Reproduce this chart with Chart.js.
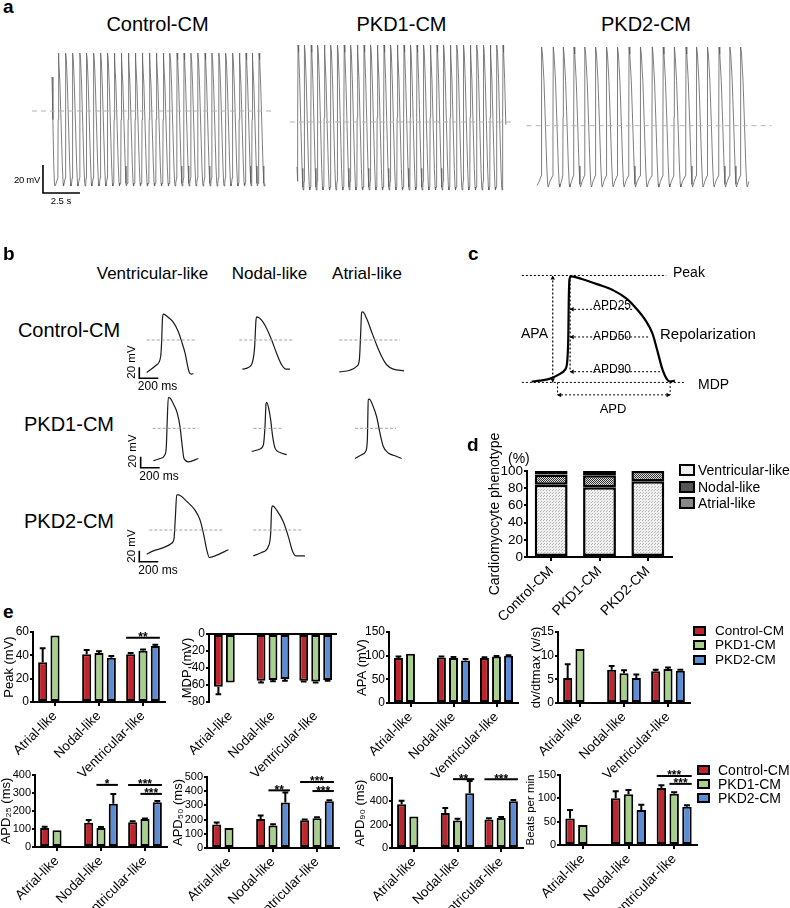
<!DOCTYPE html>
<html>
<head>
<meta charset="utf-8">
<title>PKD cardiomyocyte action potentials</title>
<script src="https://cdn.jsdelivr.net/npm/chart.js"></script>
<style>
  body { margin: 0; background: #fff; }
  #fig { position: relative; width: 790px; height: 908px; overflow: hidden;
         font-family: "Liberation Sans", Arial, sans-serif; color: #000; }
  #fig canvas { position: absolute; }
  .t { position: absolute; line-height: 1; white-space: nowrap; }
  .box { position: absolute; box-sizing: border-box; border: 2.5px solid #000; }
</style>
</head>
<body>
<div id="fig"></div>
<script>
// ---------- panel a: spontaneous AP trains (s, mV) ----------
const ctrlPeaks = [0.43, 0.93, 1.40, 1.89, 2.34, 2.82, 3.29, 3.76, 4.21, 4.68, 5.16, 5.63, 6.10, 6.58, 7.05,
                   7.52, 7.97, 8.45, 8.92, 9.39, 9.86, 10.34, 10.81, 11.28, 11.74, 12.21, 12.66, 13.11, 13.53, 13.99];
const pkd1Peaks = [0.07, 0.51, 0.96, 1.40, 1.85, 2.29, 2.74, 3.19, 3.63, 4.08, 4.53, 4.98, 5.43, 5.88, 6.33, 6.78,
                   7.23, 7.67, 8.11, 8.56, 9.01, 9.46, 9.91, 10.36, 10.81, 11.26, 11.71, 12.16, 12.61, 13.06, 13.51, 13.92];
const pkd2Peaks = [0.32, 1.10, 1.78, 2.50, 3.24, 3.97, 4.71, 5.45, 6.22, 7.00, 7.79, 8.53, 9.28, 10.07, 10.79,
                   11.53, 12.30, 13.04, 13.77];
const trainLevels = [[41.4, -53.6], [55, -48.6], [56.2, -43.8]];   // [peak, MDP]
const trainEnds = [14.39, 14.12, 14.37];
// beat shape: [s from peak, fraction of amplitude]
const beatFast = [[-0.035, 0.06], [-0.015, 0.5], [0, 1], [0.04, 0.95], [0.11, 0.76], [0.19, 0.45], [0.27, 0.15],
                  [0.32, 0.02], [0.35, 0], [0.39, 0.02]];
const beatSlow = [[-0.04, 0.08], [-0.02, 0.5], [0, 1], [0.05, 0.95], [0.15, 0.76], [0.25, 0.45], [0.34, 0.15],
                  [0.4, 0.02], [0.44, 0], [0.55, 0.04]];
const trainHeads = [[[0, 0.82], [0.06, 0.5], [0.12, 0.15], [0.17, 0.01], [0.22, 0], [0.3, 0.03]],
                    [[0, 0.16]],
                    [[0, 0.01], [0.15, 0.04]]];

// ---------- panel b: single APs (ms, mV) ----------
const bCtrlV = [[0, -59], [105, -45], [147, -30], [158, 0], [165, 36], [175, 47], [228, 41], [281, 32], [333, 15],
                [368, -3], [404, -24], [432, -48], [449, -59], [470, -62], [491, -61]];
const bCtrlN = [[0, -53], [63, -50], [109, -39], [130, -12], [144, 36], [154, 42], [203, 36], [256, 21], [309, 0],
                [361, -24], [414, -45], [460, -53], [502, -53]];
const bCtrlA = [[0, -58], [112, -55], [183, -48], [211, -36], [225, 12], [235, 50], [246, 51], [288, 39], [340, 15],
                [393, -9], [446, -30], [498, -45], [569, -53], [681, -56]];
const bPkd1V = [[0, -59], [70, -55], [123, -48], [137, -33], [147, 15], [158, 56], [176, 55], [218, 42], [253, 27],
                [281, 3], [305, -33], [323, -55], [369, -61], [474, -55]];
const bPkd1N = [[0, -42], [81, -38], [123, -30], [140, 3], [151, 45], [158, 47], [179, 36], [200, 15], [221, -15],
                [246, -36], [298, -44], [369, -48]];
const bPkd1A = [[0, -55], [70, -48], [112, -42], [130, -21], [140, 52], [151, 53], [186, 42], [228, 21], [263, -9],
                [298, -33], [351, -45], [421, -50], [491, -55]];
const bPkd2V = [[0, -44], [70, -38], [176, -32], [263, -24], [288, -15], [302, 24], [316, 64], [333, 64], [421, 52],
                [509, 36], [562, 18], [597, -6], [632, -36], [660, -50], [720, -47], [860, -36]];
const bPkd2N = [[0, -47], [88, -41], [158, -30], [183, -6], [193, 39], [204, 44], [246, 36], [316, 15], [369, -12],
                [414, -39], [449, -47], [544, -47]];
const bZeroSpans = [[[0, 527], [-32, 537], [0, 639]], [[-7, 474], [18, 333], [0, 432]], [[28, 807], [0, 527]]];
const bScaleBars = [[-78, -49.6], [-133, -51.6], [-78, -37.6]];   // corner of 20 mV / 200 ms bar

// ---------- panel c: schematic AP (ms, mV) ----------
const cAp = [[33, -79], [54, -78], [79, -76], [104, -71], [119, -66], [125, -57], [128, -25], [129, 10], [131, 36],
             [136, 39], [163, 36], [204, 30], [246, 23], [279, 14], [304, 3], [329, -11], [346, -25], [358, -43],
             [371, -64], [383, -76], [392, -79], [404, -78]];
const cPeak = 40, cMdp = -80;
const cApdLevels = [2, -29, -68];
const cApdEnds = [295, 337, 375];

// ---------- panel d: phenotype (%) ----------
const phenoGroups = ['Control-CM', 'PKD1-CM', 'PKD2-CM'];
const phenoVentricular = [84, 81, 88];
const phenoNodal = [12, 14, 12];
const phenoAtrial = [4, 5, 0];

// ---------- panel e: AP parameters, rows = Control, PKD1, PKD2 ----------
const groups = ['Atrial-like', 'Nodal-like', 'Ventricular-like'];
const seriesNames = ['Control-CM', 'PKD1-CM', 'PKD2-CM'];
const seriesColors = ['#bf252c', '#a7d08c', '#5a8dd6'];

const peakMean = [[34, 41, 41], [57, 42, 44], [null, 38, 48]];
const peakSem = [[12, 3.5, 1], [0, 1.5, 1], [null, 1.5, 1]];
const mdpMean = [[-62, -55, -55], [-57, -54, -56], [null, -53, -54]];
const mdpSem = [[9, 2, 1], [0, 1.5, 1], [null, 2, 1]];
const apaMean = [[95, 96, 95], [104, 95, 98], [null, 90, 100]];
const apaSem = [[3, 2, 1.5], [0, 2, 1.5], [null, 3, 1]];
const dvdtMean = [[5.3, 7.0, 6.7], [11.4, 6.3, 7.2], [null, 5.3, 6.8]];
const dvdtSem = [[2.9, 0.8, 0.3], [0, 0.6, 0.3], [null, 0.7, 0.2]];
const apd25Mean = [[105, 135, 138], [93, 105, 155], [null, 240, 248]];
const apd25Sem = [[8, 15, 5], [0, 6, 4], [null, 55, 8]];
const apd50Mean = [[165, 205, 195], [140, 158, 210], [null, 320, 330]];
const apd50Sem = [[15, 23, 6], [0, 10, 6], [null, 70, 7]];
const apd90Mean = [[375, 300, 245], [270, 235, 258], [null, 470, 400]];
const apd90Sem = [[30, 43, 10], [0, 15, 8], [null, 105, 12]];
const bpmMean = [[57, 100, 122], [43, 109, 110], [null, 75, 82]];
const bpmSem = [[18, 15, 6], [0, 9, 3], [null, 11, 3]];
// [group, from series, to series, height, stars]
const peakSig = [[2, 0, 2, 55, '**']];
const apd25Sig = [[1, 1, 2, 345, '*'], [2, 0, 2, 345, '***'], [2, 1, 2, 295, '***']];
const apd50Sig = [[1, 1, 2, 406, '**'], [2, 0, 2, 465, '***'], [2, 1, 2, 401, '***']];
const apd90Sig = [[1, 1, 2, 590, '**'], [2, 0, 2, 590, '***']];
const bpmSig = [[2, 0, 2, 148, '***'], [2, 1, 2, 131, '***']];

Chart.defaults.font.family = '"Liberation Sans", Arial, sans-serif';
Chart.defaults.color = '#000';

const fig = document.getElementById('fig');

function canvasAt(l, t, w, h) {
  const c = document.createElement('canvas');
  c.width = Math.round(w); c.height = Math.round(h);
  c.style.left = Math.round(l) + 'px'; c.style.top = Math.round(t) + 'px';
  fig.appendChild(c);
  return c;
}

function txt(s, x, y, size, align, extra) {
  const d = document.createElement('div');
  d.className = 't';
  d.textContent = s;
  d.style.fontSize = size + 'px';
  d.style.left = x + 'px';
  d.style.top = (y - 0.49 * size) + 'px';
  if (align === 'center') d.style.transform = 'translateX(-50%)';
  if (align === 'right') d.style.transform = 'translateX(-100%)';
  if (extra) Object.assign(d.style, extra);
  fig.appendChild(d);
}

function txtUp(s, x, y, size) {
  const d = document.createElement('div');
  d.className = 't';
  d.textContent = s;
  d.style.fontSize = size + 'px';
  d.style.left = x + 'px';
  d.style.top = y + 'px';
  d.style.transform = 'translate(-50%, -50%) rotate(-90deg)';
  fig.appendChild(d);
}

function box(x, y, w, h, bg, extra) {
  const d = document.createElement('div');
  d.className = 'box';
  Object.assign(d.style, { left: x + 'px', top: (y - h / 2) + 'px', width: w + 'px', height: h + 'px', background: bg });
  if (extra) Object.assign(d.style, extra);
  fig.appendChild(d);
}

const pts = arr => arr.map(([x, y]) => ({ x, y }));
function line(arr, color, width, dash, smooth) {
  return { data: pts(arr), borderColor: color, borderWidth: width, borderDash: dash || [], pointRadius: 0,
           fill: false, tension: 0, cubicInterpolationMode: smooth ? 'monotone' : 'default' };
}

// chart whose hidden axes map units to page pixels: x0/y0 = page px of zero, pxX/pxY = px per unit
function traceChart(l, t, w, h, x0, pxX, y0, pxY, datasets) {
  l = Math.round(l); t = Math.round(t);
  const c = canvasAt(l, t, w, h);
  new Chart(c, {
    type: 'line',
    data: { datasets },
    options: {
      animation: false, responsive: false, devicePixelRatio: 1, events: [],
      layout: { padding: 0 },
      plugins: { legend: { display: false }, tooltip: { enabled: false } },
      elements: { point: { radius: 0 } },
      scales: {
        x: { type: 'linear', display: false, min: (l - x0) / pxX, max: (l + Math.round(w) - x0) / pxX },
        y: { type: 'linear', display: false, min: (y0 - t - Math.round(h)) / pxY, max: (y0 - t) / pxY }
      }
    }
  });
}

function train(peaks, tpl, head, endT, lv) {
  const [pk, mdp] = lv;
  const v = f => mdp + f * (pk - mdp);
  const out = head.map(([t, f]) => [t, v(f)]);
  peaks.forEach((tp, i) => {
    const limit = i + 1 < peaks.length ? peaks[i + 1] + tpl[0][0] - 0.001 : endT;
    tpl.forEach(([dt, f]) => {
      const t = tp + dt;
      if (t > out[out.length - 1][0] && t <= limit) out.push([t, v(f)]);
    });
  });
  return out;
}

// ================= panel a =================
txt('a', 3, 6.5, 19, null, { fontWeight: 'bold' });
txt('Control-CM', 157.5, 23.5, 20, 'center');
txt('PKD1-CM', 401.5, 23.5, 20, 'center');
txt('PKD2-CM', 646, 23.5, 20, 'center');

const aPx = 14.8, aPy = 1.4;
const aTraces = [
  { l: 28, w: 250, x0: 52, y0: 111, dash: [-1.35, 14.86], peaks: ctrlPeaks, tpl: beatFast },
  { l: 286, w: 232, x0: 297, y0: 122, dash: [-0.47, 14.53], peaks: pkd1Peaks, tpl: beatFast },
  { l: 522, w: 256, x0: 537, y0: 125.7, dash: [-0.7, 15.86], peaks: pkd2Peaks, tpl: beatSlow }
];
aTraces.forEach((a, i) => {
  const ds = [
    line([[a.dash[0], 0], [a.dash[1], 0]], '#b4b4b4', 1, [5, 4]),
    line(train(a.peaks, a.tpl, trainHeads[i], trainEnds[i], trainLevels[i]), '#5e5e5e', 0.8, null)
  ];
  if (i === 0) ds.push(line([[-0.61, -38.6], [-0.61, -58.6], [1.89, -58.6]], '#000', 1.6));
  traceChart(a.l, 40, a.w, 158, a.x0, aPx, a.y0, aPy, ds);
});
txt('20 mV', 40, 180, 9.5, 'right', { letterSpacing: '-0.3px' });
txt('2.5 s', 61, 200.5, 9.5, 'center');

// ================= panel b =================
txt('b', 3, 253.5, 19, null, { fontWeight: 'bold' });
txt('Ventricular-like', 152.5, 273.5, 17, 'center');
txt('Nodal-like', 269.5, 273.5, 17, 'center');
txt('Atrial-like', 367, 273.5, 17, 'center');
txt('Control-CM', 69, 330, 20, 'center');
txt('PKD1-CM', 69, 424, 20, 'center');
txt('PKD2-CM', 69, 520.5, 20, 'center');

const bPx = 0.095, bPy = 0.55;
const bRows = [
  { zeroY: 340, origins: [146.7, 242.3, 339.3], traces: [bCtrlV, bCtrlN, bCtrlA] },
  { zeroY: 428.3, origins: [153.3, 251.7, 355], traces: [bPkd1V, bPkd1N, bPkd1A] },
  { zeroY: 530, origins: [146.7, 253.3], traces: [bPkd2V, bPkd2N] }
];
bRows.forEach((row, r) => {
  row.traces.forEach((tr, k) => {
    const span = bZeroSpans[r][k];
    const ds = [line([[span[0], 0], [span[1], 0]], '#a0a0a0', 1, [3, 2]), line(tr, '#1a1a1a', 1.2, null, true)];
    let tmin = Math.min(0, span[0]);
    const tmax = Math.max(tr[tr.length - 1][0], span[1]);
    if (k === 0) {
      const [sx, sy] = bScaleBars[r];
      ds.push(line([[sx, sy], [sx, sy - 20], [sx + 200, sy - 20]], '#000', 1.6));
      tmin = Math.min(tmin, sx);
    }
    const l = row.origins[k] + tmin * bPx - 4;
    const w = (tmax - tmin) * bPx + 10;
    traceChart(l, row.zeroY - 50, w, 100, row.origins[k], bPx, row.zeroY, bPy, ds);
  });
});
txtUp('20 mV', 132, 362, 11.5);
txt('200 ms', 157.5, 385.5, 12, 'center');
txtUp('20 mV', 132.5, 451, 11.5);
txt('200 ms', 159, 475.5, 12, 'center');
txtUp('20 mV', 132, 546, 11.5);
txt('200 ms', 158, 570, 12, 'center');

// ================= panel c =================
txt('c', 468, 253.2, 19, null, { fontWeight: 'bold' });
{
  const dot = [2, 2];
  const vx = 132.5, apaX = 87.5, apdY = -94;
  const ds = [
    line([[7.5, cPeak], [382, cPeak]], '#000', 1, dot),
    line([[7.5, cMdp], [432, cMdp]], '#000', 1, dot),
    line([[apaX, cMdp], [apaX, cPeak]], '#000', 1.2, dot),
    line([[vx, cPeak], [vx, cApdLevels[2]]], '#000', 1.2, dot),
    line([[100, cMdp], [100, apdY], [392, apdY], [392, cMdp]], '#000', 1, dot),
    line(cAp, '#000', 2.2, null, true)
  ];
  cApdLevels.forEach((lv, i) => ds.push(line([[vx, lv], [cApdEnds[i], lv]], '#000', 1, dot)));
  const arrows = [[apaX, cPeak - 3, 0], [apaX, cMdp + 3, 180], [100 + 6, apdY, 270], [392 - 6, apdY, 90]]
    .concat(cApdLevels.map(lv => [vx + 6, lv, 270]));
  ds.push({ data: arrows.map(([x, y]) => ({ x, y })), showLine: false, pointStyle: 'triangle',
            pointRadius: 2.6, pointRotation: arrows.map(a => a[2]), backgroundColor: '#000', borderWidth: 0 });
  traceChart(515, 262, 222, 148, 515, 0.4, 309.7, 0.942, ds);
}
txt('Peak', 673, 272, 14);
txt('MDP', 698, 384, 14);
txt('APA', 548, 333, 14, 'right');
txt('Repolarization', 660, 333.5, 15);
txt('APD25', 612, 305, 12, 'center');
txt('APD50', 612, 335.5, 12, 'center');
txt('APD90', 612, 369, 12, 'center');
txt('APD', 613, 408, 13, 'center');

// ================= shared axis styling =================
function axisY(min, max, step, size, pad) {
  return {
    min, max, border: { color: '#000', width: 2 },
    grid: { drawOnChartArea: false, tickLength: 3, color: '#000', tickColor: '#000', lineWidth: 2 },
    ticks: { stepSize: step, font: { size }, padding: pad, color: '#000', autoSkip: false }
  };
}
function axisX(size) {
  return {
    border: { color: '#000', width: 2 },
    grid: { drawOnChartArea: false, offset: false, tickLength: 4, color: '#000', tickColor: '#000', lineWidth: 2 },
    ticks: { font: { size }, minRotation: 45, maxRotation: 45, autoSkip: false, padding: 2, color: '#000' }
  };
}

// ================= panel d =================
txt('d', 467, 444, 19, null, { fontWeight: 'bold' });
txt('(%)', 508, 458, 14);
function pattern(size, bg, fg, cells) {
  const p = document.createElement('canvas');
  p.width = size; p.height = size;
  const g = p.getContext('2d');
  g.fillStyle = bg; g.fillRect(0, 0, size, size);
  g.fillStyle = fg; cells.forEach(([x, y]) => g.fillRect(x, y, 1, 1));
  return g.createPattern(p, 'repeat');
}
{
  const L = 527, R = 672, T = 471, B = 557, yw = 40, pt = 60, xh = 90;
  const c = canvasAt(L - yw, T - pt, yw + (R - L) + 6, (B - T) + pt + xh);
  const common = { borderColor: '#000', borderWidth: 2.5, borderSkipped: false, categoryPercentage: 1, barPercentage: 0.68 };
  const y = axisY(0, 100, 20, 13.5, 1);
  y.stacked = true;
  y.title = { display: true, text: 'Cardiomyocyte phenotype', font: { size: 14 }, padding: 0 };
  y.afterFit = s => { s.width = yw; };
  const x = axisX(14);
  x.stacked = true;
  x.afterFit = s => { s.height = xh; };
  new Chart(c, {
    type: 'bar',
    data: {
      labels: phenoGroups,
      datasets: [
        Object.assign({ label: 'Ventricular-like', data: phenoVentricular,
          backgroundColor: pattern(3, '#f0f0f0', '#b5b5b5', [[0, 0], [2, 1]]) }, common),
        Object.assign({ label: 'Nodal-like', data: phenoNodal,
          backgroundColor: pattern(2, '#e0e0e0', '#303030', [[0, 0], [1, 1]]) }, common),
        Object.assign({ label: 'Atrial-like', data: phenoAtrial, backgroundColor: '#111' }, common)
      ]
    },
    options: {
      animation: false, responsive: false, devicePixelRatio: 1, events: [],
      layout: { padding: { top: pt, right: 6 } },
      plugins: { legend: { display: false }, tooltip: { enabled: false } },
      scales: { x, y }
    }
  });
}
box(679, 470, 16, 12, '#eee');
box(679, 487, 16, 12, '#555');
box(679, 503, 16, 12, '#888');
txt('Ventricular-like', 698, 470, 14);
txt('Nodal-like', 698, 487, 14);
txt('Atrial-like', 698, 503, 14);

// ================= panel e =================
txt('e', 3, 611.2, 19, null, { fontWeight: 'bold' });

const errorBars = {
  id: 'errorBars',
  afterDatasetsDraw(chart) {
    const ctx = chart.ctx, ys = chart.scales.y;
    ctx.save();
    ctx.strokeStyle = '#000'; ctx.lineWidth = 2;
    chart.data.datasets.forEach((d, i) => {
      chart.getDatasetMeta(i).data.forEach((bar, j) => {
        const v = d.data[j], e = d.sem[j];
        if (v == null || !e) return;
        const tip = ys.getPixelForValue(v + (v < 0 ? -e : e));
        const hw = bar.width * 0.32;
        ctx.beginPath();
        ctx.moveTo(bar.x, bar.y); ctx.lineTo(bar.x, tip);
        ctx.moveTo(bar.x - hw, tip); ctx.lineTo(bar.x + hw, tip);
        ctx.stroke();
      });
    });
    ctx.restore();
  }
};

function sigBars(list) {
  return {
    id: 'sigBars',
    afterDatasetsDraw(chart) {
      const ctx = chart.ctx, ys = chart.scales.y;
      ctx.save();
      ctx.strokeStyle = '#000'; ctx.fillStyle = '#000'; ctx.lineWidth = 2;
      ctx.font = 'bold 12px "Liberation Sans", Arial';
      ctx.textAlign = 'center'; ctx.textBaseline = 'alphabetic';
      list.forEach(([g, a, b, v, s]) => {
        const ba = chart.getDatasetMeta(a).data[g], bb = chart.getDatasetMeta(b).data[g];
        const x1 = ba.x - ba.width / 2, x2 = bb.x + bb.width / 2, yy = ys.getPixelForValue(v);
        ctx.beginPath(); ctx.moveTo(x1, yy); ctx.lineTo(x2, yy); ctx.stroke();
        ctx.fillText(s, (x1 + x2) / 2, yy + 3.5);
      });
      ctx.restore();
    }
  };
}

function barPanel(p) {
  const pt = 34, pr = 6, xh = 100;
  const ts = p.ts || 13;
  const left = Math.round(p.tx - 0.6 * ts);
  const yw = p.L - left;
  const c = canvasAt(left, p.T - pt, yw + (p.R - p.L) + pr, (p.B - p.T) + pt + xh);
  const datasets = seriesNames.map((n, i) => ({
    label: n, data: p.mean[i], sem: p.sem[i], backgroundColor: seriesColors[i],
    borderColor: '#000', borderWidth: 2, borderSkipped: false, categoryPercentage: 0.84, barPercentage: 0.74
  }));
  const y = axisY(p.min, p.max, p.step, p.tickSize || 12, 1);
  y.title = { display: true, text: p.title, font: { size: ts }, padding: 0 };
  y.afterFit = s => { s.width = yw; };
  const x = axisX(13.5);
  x.afterFit = s => { s.height = xh; };
  if (p.zero) {
    y.grid.drawOnChartArea = true;
    y.grid.color = ctx => (ctx.tick && ctx.tick.value === 0 ? '#000' : 'rgba(0,0,0,0)');
    x.border.display = false;
    x.grid.drawTicks = false;
    x.ticks.padding = 6;
  }
  new Chart(c, {
    type: 'bar',
    data: { labels: groups, datasets },
    options: {
      animation: false, responsive: false, devicePixelRatio: 1, events: [],
      layout: { padding: { top: pt, right: pr } },
      plugins: { legend: { display: false }, tooltip: { enabled: false } },
      scales: { x, y }
    },
    plugins: [errorBars, sigBars(p.sig || [])]
  });
}

barPanel({ L: 33, R: 165, T: 632, B: 702, tx: 10, title: 'Peak (mV)', min: 0, max: 60, step: 20,
           mean: peakMean, sem: peakSem, sig: peakSig });
barPanel({ L: 209, R: 337, T: 634, B: 702, tx: 188, title: 'MDP (mV)', min: -80, max: 0, step: 20,
           mean: mdpMean, sem: mdpSem, zero: true });
barPanel({ L: 389, R: 518, T: 632, B: 703, tx: 363, title: 'APA (mV)', min: 0, max: 150, step: 50,
           mean: apaMean, sem: apaSem });
barPanel({ L: 558, R: 690, T: 632, B: 703, tx: 537, title: 'dv/dtmax (v/s)', min: 0, max: 15, step: 5,
           mean: dvdtMean, sem: dvdtSem });
barPanel({ L: 35, R: 167, T: 775, B: 847, tx: 6.5, title: 'APD₂₅ (ms)', ts: 13, tickSize: 11, min: 0, max: 400,
           step: 100, mean: apd25Mean, sem: apd25Sem, sig: apd25Sig });
barPanel({ L: 207, R: 339, T: 777, B: 848, tx: 179, title: 'APD₅₀ (ms)', ts: 13, tickSize: 11, min: 0, max: 500,
           step: 100, mean: apd50Mean, sem: apd50Sem, sig: apd50Sig });
barPanel({ L: 392, R: 523, T: 778, B: 848, tx: 361, title: 'APD₉₀ (ms)', ts: 13, tickSize: 11, min: 0, max: 600,
           step: 200, mean: apd90Mean, sem: apd90Sem, sig: apd90Sig });
barPanel({ L: 560, R: 697, T: 775, B: 845, tx: 531, title: 'Beats per min', ts: 11.5, tickSize: 11, min: 0,
           max: 150, step: 50, mean: bpmMean, sem: bpmSem, sig: bpmSig });

[[693, 715, [631, 645, 660], 13.5], [697, 718, [770, 784, 798], 14]].forEach(([bx, tx, ys, fs]) => {
  ys.forEach((yy, i) => {
    box(bx, yy, 13, 10, seriesColors[i]);
    txt(seriesNames[i], tx, yy, fs);
  });
});
</script>
</body>
</html>
